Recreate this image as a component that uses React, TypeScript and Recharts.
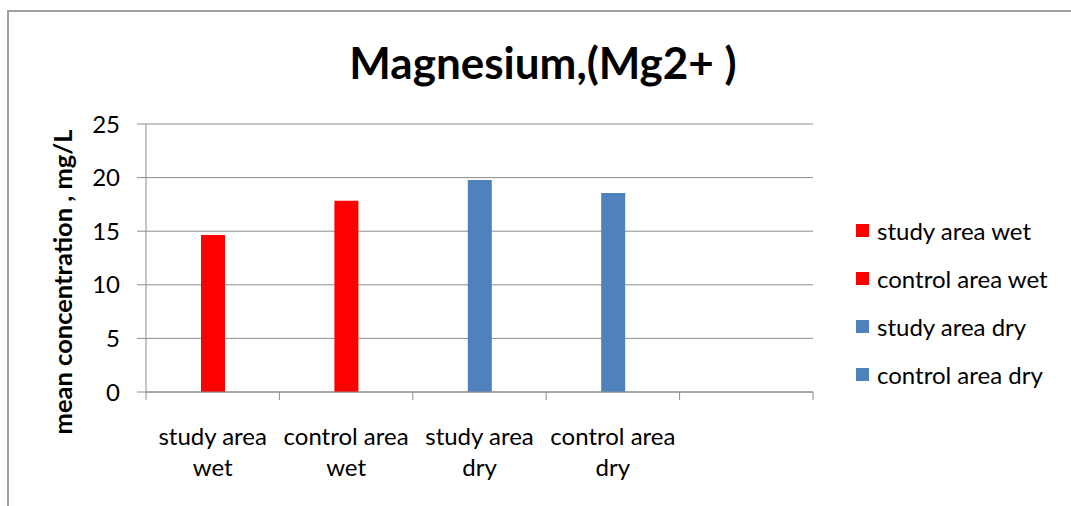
import React from 'react';
import { BarChart, Bar, XAxis, YAxis, CartesianGrid, Legend } from 'recharts';

const categories = ['study area wet', 'control area wet', 'study area dry', 'control area dry', ''];
const categoryLines = [
  ['study area', 'wet'],
  ['control area', 'wet'],
  ['study area', 'dry'],
  ['control area', 'dry'],
  ['', ''],
];
const seriesNames = ['study area wet', 'control area wet', 'study area dry', 'control area dry'];
const seriesColors = ['#FF0000', '#FF0000', '#4F81BD', '#4F81BD'];
const studyAreaWet = [14.65, null, null, null, null];
const controlAreaWet = [null, 17.85, null, null, null];
const studyAreaDry = [null, null, 19.78, null, null];
const controlAreaDry = [null, null, null, 18.56, null];
const yTicks = [0, 5, 10, 15, 20, 25];
const titleText = 'Magnesium,(Mg2+ )';
const yAxisTitle = 'mean concentration , mg/L';

const seriesValues = [studyAreaWet, controlAreaWet, studyAreaDry, controlAreaDry];
const seriesKeys = ['s0', 's1', 's2', 's3'];

const data = categories.map((c, i) => {
  const row: any = { cat: 'c' + i, label: c };
  seriesKeys.forEach((k, j) => {
    row[k] = seriesValues[j][i];
  });
  return row;
});

const W = 1071;
const H = 506;
const PLOT_LEFT = 146;
const PLOT_RIGHT = 813;
const PLOT_TOP = 124;
const PLOT_BOTTOM = 392;
const GRID = '#8c8c8c';
const FONT = 'Lato, "Open Sans", sans-serif';

const XTick = (props: any) => {
  const { x, payload } = props;
  const idx = payload.index;
  const band = (PLOT_RIGHT - PLOT_LEFT) / categories.length;
  const lines = categoryLines[idx] || ['', ''];
  const isLast = idx === categories.length - 1;
  return (
    <g>
      <line x1={x - band / 2} x2={x - band / 2} y1={PLOT_BOTTOM} y2={PLOT_BOTTOM + 8} stroke={GRID} strokeWidth={1} />
      {isLast && (
        <line x1={x + band / 2} x2={x + band / 2} y1={PLOT_BOTTOM} y2={PLOT_BOTTOM + 8} stroke={GRID} strokeWidth={1} />
      )}
      <text x={x} y={PLOT_BOTTOM + 53} textAnchor="middle" fontSize={24} fill="#000" fontFamily={FONT}>
        {lines[0]}
      </text>
      <text x={x} y={PLOT_BOTTOM + 84} textAnchor="middle" fontSize={24} fill="#000" fontFamily={FONT}>
        {lines[1]}
      </text>
    </g>
  );
};

const YLabel = (props: any) => {
  const vb = props.viewBox || { x: 0, y: PLOT_TOP, height: PLOT_BOTTOM - PLOT_TOP };
  const cx = vb.x + 62;
  const cy = vb.y + vb.height / 2 + 24;
  return (
    <text
      x={cx}
      y={cy}
      transform={`rotate(-90 ${cx} ${cy})`}
      textAnchor="middle"
      dominantBaseline="central"
      fontSize={25.5}
      fontWeight="bold"
      fill="#000"
      fontFamily={FONT}
    >
      {yAxisTitle}
    </text>
  );
};

const LegendContent = () => (
  <div style={{ fontFamily: FONT, fontSize: 24, color: '#000' }}>
    {seriesNames.map((n, i) => (
      <div key={n} style={{ height: 48, display: 'flex', alignItems: 'center', whiteSpace: 'nowrap' }}>
        <span style={{ display: 'inline-block', width: 13, height: 13, background: seriesColors[i], marginRight: 8 }} />
        <span>{n}</span>
      </div>
    ))}
  </div>
);

export default function App() {
  return (
    <div style={{ position: 'absolute', left: 0, top: 0, width: W, height: H, overflow: 'hidden', background: '#fff' }}>
      <div
        style={{
          position: 'absolute',
          left: 7,
          top: 10,
          width: W,
          height: H,
          borderLeft: '2px solid #a0a0a0',
          borderTop: '2px solid #a0a0a0',
        }}
      />
      <div
        style={{
          position: 'absolute',
          left: 0,
          width: 1086,
          top: 36,
          textAlign: 'center',
          fontFamily: FONT,
          fontWeight: 'bold',
          fontSize: 44,
          lineHeight: 1.2,
          color: '#000',
          whiteSpace: 'nowrap',
        }}
      >
        {titleText}
      </div>
      <div style={{ position: 'absolute', left: 0, top: 0 }}>
        <BarChart
          width={W}
          height={H}
          data={data}
          margin={{ top: PLOT_TOP, right: W - PLOT_RIGHT, bottom: 0, left: 0 }}
          barSize={24}
        >
          <CartesianGrid horizontal={true} vertical={false} stroke={GRID} strokeWidth={1} />
          <XAxis
            dataKey="cat"
            height={H - PLOT_BOTTOM}
            axisLine={{ stroke: GRID, strokeWidth: 1 }}
            tickLine={false}
            tick={<XTick />}
            interval={0}
          />
          <YAxis
            width={PLOT_LEFT}
            domain={[0, 25]}
            ticks={yTicks}
            interval={0}
            axisLine={{ stroke: GRID, strokeWidth: 1 }}
            tickLine={{ stroke: GRID, strokeWidth: 1 }}
            tickSize={9}
            tickMargin={17}
            tick={{ fill: '#000', fontSize: 24, fontFamily: FONT }}
            label={<YLabel />}
          />
          <Legend
            layout="horizontal"
            verticalAlign="middle"
            align="center"
            wrapperStyle={{ left: 856, top: 206, width: 215, height: 192 }}
            content={<LegendContent />}
          />
          {seriesKeys.map((k, i) => (
            <Bar
              key={k}
              dataKey={k}
              name={seriesNames[i]}
              stackId="a"
              fill={seriesColors[i]}
              isAnimationActive={false}
            />
          ))}
        </BarChart>
      </div>
    </div>
  );
}
